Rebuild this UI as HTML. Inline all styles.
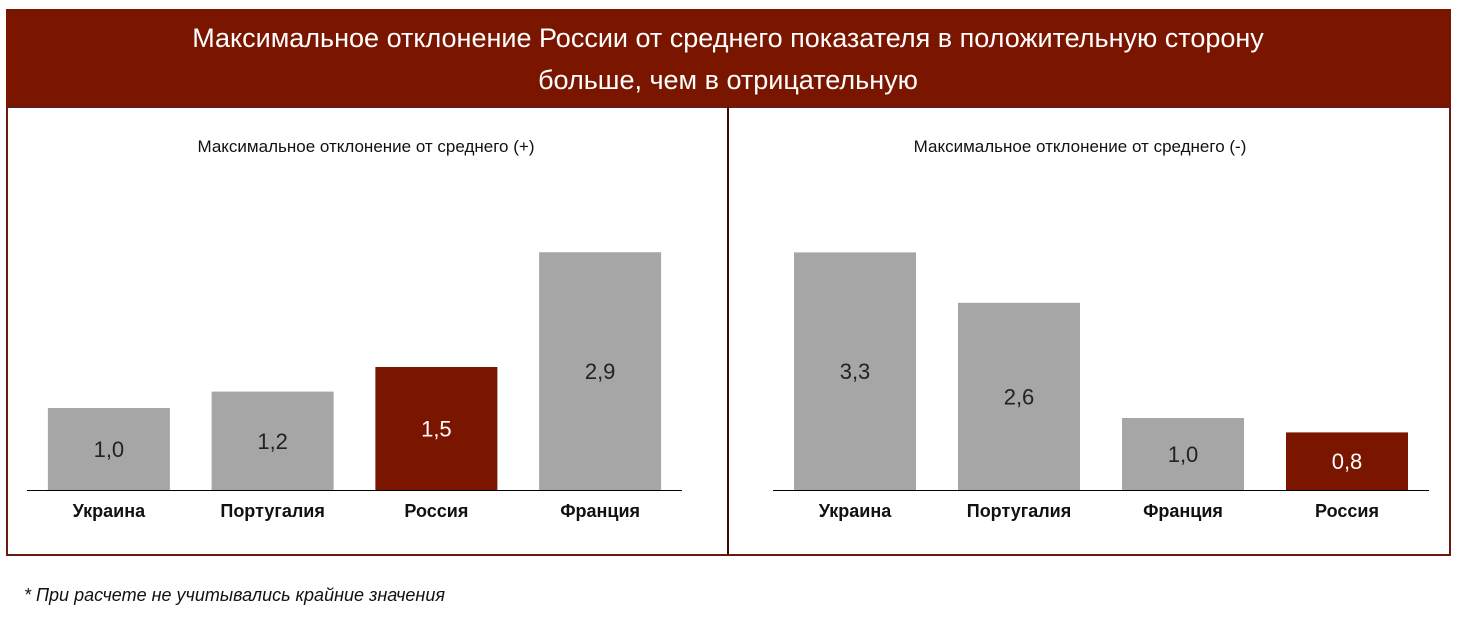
<!DOCTYPE html>
<html><head><meta charset="utf-8"><style>
body{margin:0;background:#fff;width:1460px;height:612px;overflow:hidden;font-family:"Liberation Sans","DejaVu Sans",sans-serif}
</style></head><body>
<svg width="1460" height="612" xmlns="http://www.w3.org/2000/svg" font-family="Liberation Sans, DejaVu Sans, sans-serif">
<rect x="6" y="9" width="1445" height="98" fill="#7a1600"/>
<text x="728" y="47" font-size="27" fill="#fff" text-anchor="middle">Максимальное отклонение России от среднего показателя в положительную сторону</text>
<text x="728" y="89" font-size="27" fill="#fff" text-anchor="middle">больше, чем в отрицательную</text>
<rect x="7" y="107" width="1443" height="448" fill="none" stroke="#6b1a10" stroke-width="2"/>
<line x1="728" y1="107" x2="728" y2="555" stroke="#3a0a05" stroke-width="2"/>
<text x="366" y="152" font-size="17" fill="#111" text-anchor="middle">Максимальное отклонение от среднего (+)</text>
<text x="1080" y="152" font-size="17" fill="#111" text-anchor="middle">Максимальное отклонение от среднего (-)</text>
<g id="left"></g>
<g id="right"></g>
<text x="24" y="601" font-size="18" font-style="italic" fill="#111">* При расчете не учитывались крайние значения</text>
</svg>
<script>
const leftCategories=["Украина","Португалия","Россия","Франция"];
const leftValues=[1.0,1.2,1.5,2.9];
const leftHighlight=[false,false,true,false];
const rightCategories=["Украина","Португалия","Франция","Россия"];
const rightValues=[3.3,2.6,1.0,0.8];
const rightHighlight=[false,false,false,true];
const NS="http://www.w3.org/2000/svg";
function draw(gid,cats,vals,hl,x0,x1,scale){
  const g=document.getElementById(gid);
  const base=490,step=(x1-x0)/cats.length,bw=122;
  const ax=document.createElementNS(NS,"line");
  
  
  ax.setAttribute("x1",x0);ax.setAttribute("x2",x1);ax.setAttribute("y1",base+0.5);ax.setAttribute("y2",base+0.5);ax.setAttribute("stroke","#000");
  cats.forEach((c,i)=>{
    const cx=x0+step*(i+0.5),h=vals[i]*scale;
    const r=document.createElementNS(NS,"rect");
    
    
    r.setAttribute("x",cx-bw/2);r.setAttribute("y",base-h);r.setAttribute("width",bw);r.setAttribute("height",h);
    r.setAttribute("fill",hl[i]?"#7a1600":"#a6a6a6");g.appendChild(r);
    const t=document.createElementNS(NS,"text");
    
    
    t.setAttribute("x",cx);t.setAttribute("y",base-h/2+8);t.setAttribute("text-anchor","middle");t.setAttribute("font-size","22");
    t.setAttribute("fill",hl[i]?"#fff":"#222");t.textContent=vals[i].toFixed(1).replace(".",",");g.appendChild(t);
    const l=document.createElementNS(NS,"text");
    
    
    l.setAttribute("x",cx);l.setAttribute("y",517);l.setAttribute("text-anchor","middle");l.setAttribute("font-size","18");l.setAttribute("font-weight","bold");l.setAttribute("fill","#111");
    l.textContent=c;g.appendChild(l);
  });
  g.appendChild(ax);
}
draw("left",leftCategories,leftValues,leftHighlight,27,682,82);
draw("right",rightCategories,rightValues,rightHighlight,773,1429,72);
</script>
</body></html>
